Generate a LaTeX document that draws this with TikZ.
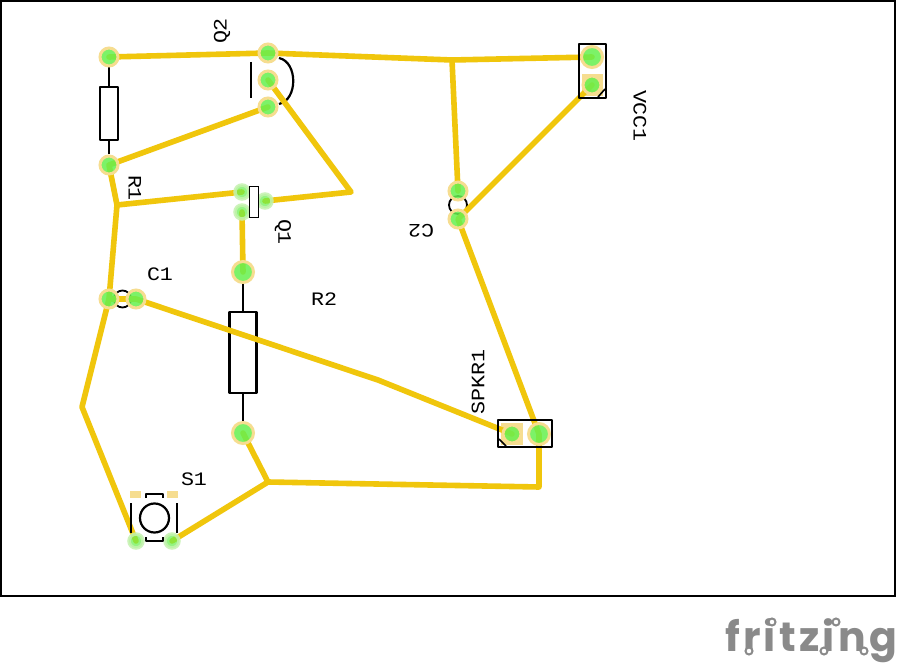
\documentclass[tikz,border=0pt]{standalone}
\usepackage{fontspec}
\newfontfamily\lblfont[FakeStretch=1.14]{Liberation Mono}
\newfontfamily\logofont[LetterSpace=8]{Poppins}
\definecolor{wirecol}{HTML}{F0C60C}
\definecolor{halocol}{HTML}{F6DD90}
\definecolor{greencol}{HTML}{66F04E}
\definecolor{softgreen}{HTML}{C4F2AE}
\definecolor{logocol}{HTML}{8A8A8A}
\pgfdeclarelayer{symbols}
\pgfdeclarelayer{wires}
\pgfsetlayers{symbols,wires,main}
\tikzset{
  pad/.style={circle,inner sep=0pt,minimum size=18pt,fill=greencol,draw=halocol,line width=3pt,fill opacity=.85},
  bigpad/.style={pad,minimum size=21pt},
  softpad/.style={circle,inner sep=0pt,minimum size=14pt,fill=greencol,draw=softgreen,line width=3.5pt,fill opacity=.7,draw opacity=.85},
  wire/.style={draw=wirecol,line width=5.6pt,line cap=round,line join=round},
  sym/.style={draw=black,line width=2.2pt,line join=round},
  lbl/.style={font=\lblfont\fontsize{19}{19}\selectfont,inner sep=0pt,text=black},
  sq/.style={fill=halocol,draw=none},
  ring/.style={draw=logocol,line width=2pt,fill=white}
}
\begin{document}
\begin{tikzpicture}[x=1pt,y=-1pt]
\useasboundingbox (0,0) rectangle (900,666);
\begin{pgfonlayer}{symbols}
  \fill[white] (0,0) rectangle (900,666);
\end{pgfonlayer}
\draw[black,line width=2pt] (1,1) rectangle (895,596);

% pads
\node[pad] (r1a) at (109,57) {};
\node[pad] (r1b) at (109,165) {};
\node[pad] (q2a) at (268,53) {};
\node[pad] (q2b) at (268,80) {};
\node[pad] (q2c) at (268,107) {};
\node[softpad] (q1a) at (242,192) {};
\node[softpad] (q1b) at (242,212) {};
\node[softpad] (q1c) at (265,201) {};
\node[bigpad] (r2a) at (243,272) {};
\node[bigpad] (r2b) at (243,433) {};
\node[pad] (c1a) at (109,299) {};
\node[pad] (c1b) at (136,299) {};
\node[pad] (c2a) at (458,191) {};
\node[pad] (c2b) at (458,219) {};
\node[softpad] (s1a) at (136,541) {};
\node[softpad] (s1b) at (172,541) {};

\begin{pgfonlayer}{symbols}
  \fill[sq] (582,74) rectangle (603,96);
  \fill[sq] (501,423) rectangle (523,445);
  \fill[sq] (130,491) rectangle (141,498);
  \fill[sq] (167,491) rectangle (178,498);
\end{pgfonlayer}
\node[bigpad] (vcca) at (592,57) {};
\node[pad] (vccb) at (592,85) {};
\node[pad] (spka) at (512,434) {};
\node[bigpad] (spkb) at (539,434) {};

% junctions
\coordinate (j1) at (452,60);
\coordinate (j2) at (351,192);
\coordinate (j3) at (117,205);
\coordinate (j4) at (82,407);
\coordinate (j5) at (378,380);
\coordinate (j6) at (268,482);
\coordinate (j7) at (539,487);

% wires
\begin{pgfonlayer}{wires}
  \draw[wire] (r1a.center) -- (q2a.center) -- (j1) -- (vcca.center);
  \draw[wire] (j1) -- (c2a.center);
  \draw[wire] (vccb.center) -- (c2b.center) -- (spkb.center) -- (j7) -- (j6) -- (r2b.center);
  \draw[wire] (j6) -- (s1b.center);
  \draw[wire] (s1a.center) -- (j4) -- (c1a.center) -- (j3) -- (r1b.center) -- (q2c.center);
  \draw[wire] (q2b.center) -- (j2) -- (q1c.center);
  \draw[wire] (j3) -- (q1a.center);
  \draw[wire] (q1b.center) -- (r2a.center);
  \draw[wire] (c1a.center) -- (c1b.center) -- (j5) -- (spka.center);
\end{pgfonlayer}

% component outlines below the wires
\begin{pgfonlayer}{symbols}
  \node[sym,fill=white,minimum width=18pt,minimum height=53pt,inner sep=0pt] (r1body) at (109,113.5) {};
  \draw[sym] (r1a) -- (r1body);
  \draw[sym] (r1b) -- (r1body);
  \node[sym,minimum width=27pt,minimum height=81pt,inner sep=0pt] (r2body) at (243,352.5) {};
  \draw[sym] (r2a) -- (r2body);
  \draw[sym] (r2b) -- (r2body);
  \draw[sym] (251,62) -- (251,98);
  \draw[sym] (279,58) .. controls (298,62) and (298,100) .. (279,104);
  \node[circle,draw=black,line width=1.8pt,minimum size=17pt,inner sep=0pt] (c1body) at (122.5,299) {};
  \node[circle,draw=black,line width=1.8pt,minimum size=18pt,inner sep=0pt] (c2body) at (458,205) {};
\end{pgfonlayer}

% components above the wires
\node[draw=black,line width=1pt,fill=white,minimum width=9pt,minimum height=30pt,inner sep=0pt] (q1body) at (253.5,202) {};
\node[sym,minimum width=27pt,minimum height=54pt,inner sep=0pt] (vccbody) at (592.5,71) {};
\draw[sym,line width=1.6pt] (598,97) -- (605,89);
\node[sym,minimum width=54pt,minimum height=27pt,inner sep=0pt] (spkbody) at (525,433.5) {};
\draw[sym,line width=1.6pt] (499,439) -- (506,446);

% push button
\node[circle,sym,minimum size=29pt,inner sep=0pt] (s1body) at (154.5,518) {};
\draw[sym] (131,503) -- (131,533);
\draw[sym] (177,503) -- (177,533);
\draw[sym] (146,498) -- (146,494) -- (163,494) -- (163,498);
\draw[sym] (146,537) -- (146,541) -- (163,541) -- (163,537);

% labels
\node[lbl,rotate=90] (lq2) at (222,31) {Q2};
\node[lbl,rotate=-90] (lr1) at (135,188) {R1};
\node[lbl,rotate=-90] (lq1) at (283,232) {Q1};
\node[lbl] (lc1) at (160,274) {C1};
\node[lbl] (lr2) at (324,299) {R2};
\node[lbl,rotate=180] (lc2) at (421,231) {C2};
\node[lbl,rotate=-90] (lvcc) at (640,116) {VCC1};
\node[lbl,rotate=90] (lspk) at (478,382) {SPKR1};
\node[lbl] (ls1) at (194,479) {S1};

% logo
\node[font=\logofont\bfseries\fontsize{41}{41}\selectfont,text=logocol,inner sep=0pt,anchor=base] (logo) at (811,651) {fritzing};
\foreach \rx/\ry in {772/622,836/622,749/651,824/651,864/651}
  \draw[ring] (\rx,\ry) circle (3.5pt);
\end{tikzpicture}
\end{document}
